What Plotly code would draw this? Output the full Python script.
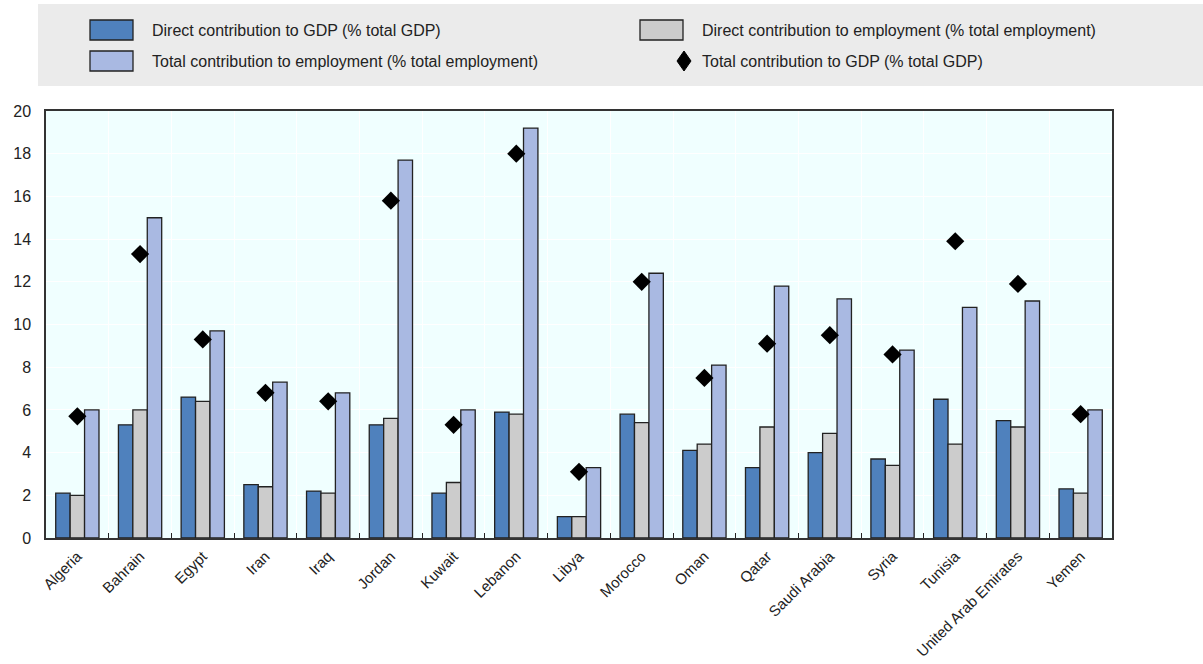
import plotly.graph_objects as go

countries = ["Algeria", "Bahrain", "Egypt", "Iran", "Iraq", "Jordan", "Kuwait", "Lebanon",
             "Libya", "Morocco", "Oman", "Qatar", "Saudi Arabia", "Syria", "Tunisia",
             "United Arab Emirates", "Yemen"]
direct_gdp = [2.1, 5.3, 6.6, 2.5, 2.2, 5.3, 2.1, 5.9, 1.0, 5.8, 4.1, 3.3, 4.0, 3.7, 6.5, 5.5, 2.3]
direct_emp = [2.0, 6.0, 6.4, 2.4, 2.1, 5.6, 2.6, 5.8, 1.0, 5.4, 4.4, 5.2, 4.9, 3.4, 4.4, 5.2, 2.1]
total_emp = [6.0, 15.0, 9.7, 7.3, 6.8, 17.7, 6.0, 19.2, 3.3, 12.4, 8.1, 11.8, 11.2, 8.8, 10.8, 11.1, 6.0]
total_gdp = [5.7, 13.3, 9.3, 6.8, 6.4, 15.8, 5.3, 18.0, 3.1, 12.0, 7.5, 9.1, 9.5, 8.6, 13.9, 11.9, 5.8]

series_names = ["Direct contribution to GDP (% total GDP)",
                "Direct contribution to employment (% total employment)",
                "Total contribution to employment (% total employment)",
                "Total contribution to GDP (% total GDP)"]
bar_colors = ["#4f81bd", "#cccccc", "#a9b9e2"]

W, H = 1203, 664
L, R, T, B = 46, 91, 111, 126
PW, PH = W - L - R, H - T - B


def px(x):
    return (x - L) / PW


def py(y):
    return (H - B - y) / PH


fig = go.Figure()
for name, vals, col in zip(series_names[:3], [direct_gdp, direct_emp, total_emp], bar_colors):
    fig.add_trace(go.Bar(x=countries, y=vals, name=name, marker_color=col,
                         marker_line_color="#222222", marker_line_width=1.3,
                         showlegend=False))
fig.add_trace(go.Scatter(x=countries, y=total_gdp, name=series_names[3], mode="markers",
                         marker=dict(symbol="diamond", size=14, color="black"),
                         showlegend=False))

font = "Liberation Sans, Arial, sans-serif"
shapes = []
annotations = []
# legend panel
shapes.append(dict(type="rect", xref="paper", yref="paper", x0=px(38), x1=px(1203),
                   y0=py(86), y1=py(4), fillcolor="#ebebeb", line_width=0, layer="below"))
legend_pos = [(90, 30), (640, 30), (90, 61), (640, 61)]
for i, (name, (lx, ly)) in enumerate(zip(series_names, legend_pos)):
    if i < 3:
        shapes.append(dict(type="rect", xref="paper", yref="paper",
                           x0=px(lx), x1=px(lx + 43), y0=py(ly + 10), y1=py(ly - 10),
                           fillcolor=bar_colors[i], line=dict(color="#222222", width=1.3)))
    else:
        shapes.append(dict(type="path", xref="paper", yref="paper",
                           path=f"M {px(684)},{py(ly - 10)} L {px(691)},{py(ly)} "
                                f"L {px(684)},{py(ly + 10)} L {px(677)},{py(ly)} Z",
                           fillcolor="black", line=dict(color="black", width=1)))
    annotations.append(dict(text=name, xref="paper", yref="paper", x=px(lx + 60), y=py(ly),
                            xanchor="left", yanchor="middle", showarrow=False,
                            font=dict(family=font, size=16, color="#222222")))

fig.update_layout(
    width=W, height=H,
    margin=dict(l=L, r=R, t=T, b=B),
    paper_bgcolor="white", plot_bgcolor="#f0ffff",
    barmode="group", bargap=0.31, bargroupgap=0,
    font=dict(family=font, size=13, color="#222222"),
    shapes=shapes, annotations=annotations,
    showlegend=False,
)
fig.update_xaxes(type="category", range=[-0.5, len(countries) - 0.5], automargin=False,
                 tickson="boundaries", ticks="inside", ticklen=5,
                 tickcolor="#222222", showgrid=True, gridcolor="white", gridwidth=1,
                 showline=True, linecolor="#333333", linewidth=1.5, mirror=True,
                 tickangle=-45, tickfont=dict(size=15), ticklabelstandoff=2)
fig.update_yaxes(range=[0, 20], dtick=2, showgrid=True, gridcolor="white", gridwidth=1,
                 showline=True, linecolor="#333333", linewidth=1.5, mirror=True, automargin=False,
                 ticks="", zeroline=False, tickfont=dict(size=16), ticklabelstandoff=10)

fig.write_html("out.html")
